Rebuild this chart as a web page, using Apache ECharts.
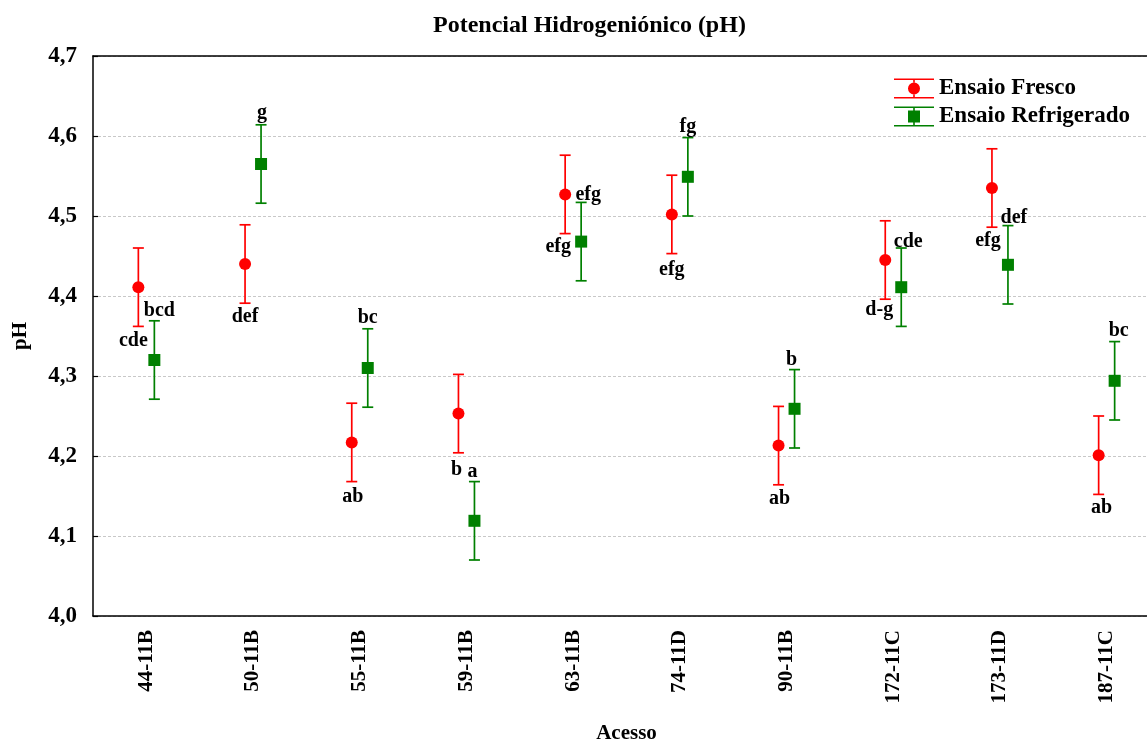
<!DOCTYPE html>
<html>
<head>
<meta charset="utf-8">
<script src="https://cdn.jsdelivr.net/npm/echarts@6/dist/echarts.min.js"></script>
<style>
  html, body { margin: 0; padding: 0; background: #fff; }
  #chart { width: 1147px; height: 740px; }
</style>
</head>
<body>
<div id="chart"></div>
<script>
// Accessions
const categories = ['44-11B', '50-11B', '55-11B', '59-11B', '63-11B', '74-11D', '90-11B', '172-11C', '173-11D', '187-11C'];

// Mean pH per accession
const frescoMean = [4.411, 4.440, 4.217, 4.253, 4.527, 4.502, 4.213, 4.445, 4.535, 4.201];
const refrigMean = [4.320, 4.565, 4.310, 4.119, 4.468, 4.549, 4.259, 4.411, 4.439, 4.294];

// Half-width of the confidence interval
const frescoCI = [0.049, 0.049, 0.049, 0.049, 0.049, 0.049, 0.049, 0.049, 0.049, 0.049];
const refrigCI = [0.049, 0.049, 0.049, 0.049, 0.049, 0.049, 0.049, 0.049, 0.049, 0.049];

// Mean-separation letters
const frescoLetters = ['cde', 'def', 'ab', 'b', 'efg', 'efg', 'ab', 'd-g', 'efg', 'ab'];
const refrigLetters = ['bcd', 'g', 'bc', 'a', 'efg', 'fg', 'b', 'cde', 'def', 'bc'];

// Y axis ticks
const yTicks = [4.0, 4.1, 4.2, 4.3, 4.4, 4.5, 4.6, 4.7];

// Letter placement (pixel offset from the marker centre)
const frescoLabelOffset = [[-5, 54], [0, 53], [1, 54], [-2, 56], [23, 0], [0, 55], [1, 53], [-6, 50], [-4, 53], [3, 53]];
const refrigLabelOffset = [[5, -49], [1, -51], [0, -50], [-2, -49], [-23, 5], [0, -50], [-3, -49], [7, -45], [6, -47], [4, -50]];

const SERIF = '"Liberation Serif", "Times New Roman", serif';
const RED = '#ff0000';
const GREEN = '#008000';

function buildData(means, cis) {
  return means.map((m, i) => [i, m, +(m - cis[i]).toFixed(4), +(m + cis[i]).toFixed(4)]);
}

function makeRender(color, shift, marker, letters, offsets) {
  return function (params, api) {
    const i = api.value(0);
    const p = api.coord([i, api.value(1)]);
    const lo = api.coord([i, api.value(2)]);
    const hi = api.coord([i, api.value(3)]);
    const x = p[0] + shift;
    const capHalf = 5.5;
    const lineStyle = { stroke: color, lineWidth: 1.7 };
    const children = [
      { type: 'line', shape: { x1: x, y1: hi[1], x2: x, y2: lo[1] }, style: lineStyle },
      { type: 'line', shape: { x1: x - capHalf, y1: hi[1], x2: x + capHalf, y2: hi[1] }, style: lineStyle },
      { type: 'line', shape: { x1: x - capHalf, y1: lo[1], x2: x + capHalf, y2: lo[1] }, style: lineStyle }
    ];
    if (marker === 'circle') {
      children.push({ type: 'circle', shape: { cx: x, cy: p[1], r: 6 }, style: { fill: color } });
    } else {
      children.push({ type: 'rect', shape: { x: x - 6, y: p[1] - 6, width: 12, height: 12 }, style: { fill: color } });
    }
    const off = offsets[params.dataIndex];
    children.push({
      type: 'text',
      style: {
        text: letters[params.dataIndex],
        x: x + off[0],
        y: p[1] + off[1],
        align: 'center',
        verticalAlign: 'middle',
        font: 'bold 20px ' + SERIF,
        fill: '#000'
      }
    });
    return { type: 'group', children: children };
  };
}

// Legend icons: error bar with caps plus the marker (pieces do not overlap)
const iconCircle = 'path://M0,0H40V1.6H0Z M19.2,1.6H20.8V4.2H19.2Z M19.2,15.8H20.8V18.4H19.2Z M0,18.4H40V20H0Z M14,10A6,6 0 1,0 26,10A6,6 0 1,0 14,10Z';
const iconSquare = 'path://M0,0H40V1.6H0Z M19.2,1.6H20.8V4H19.2Z M19.2,16H20.8V18.4H19.2Z M0,18.4H40V20H0Z M14,4H26V16H14Z';

const chart = echarts.init(document.getElementById('chart'), null, { renderer: 'canvas' });

chart.setOption({
  animation: false,
  backgroundColor: '#fff',
  title: {
    text: 'Potencial Hidrogeniónico (pH)',
    left: 428,
    top: 9,
    textStyle: { fontFamily: SERIF, fontWeight: 'bold', fontSize: 24, color: '#000' }
  },
  legend: {
    left: 889,
    top: 72,
    orient: 'vertical',
    itemWidth: 40,
    itemHeight: 20,
    itemGap: 5,
    selectedMode: false,
    textStyle: { fontFamily: SERIF, fontWeight: 'bold', fontSize: 23, color: '#000' },
    itemStyle: { borderWidth: 0 },
    data: [
      { name: 'Ensaio Fresco', icon: iconCircle, itemStyle: { color: RED } },
      { name: 'Ensaio Refrigerado', icon: iconSquare, itemStyle: { color: GREEN } }
    ]
  },
  grid: { left: 93, top: 56, width: 1067, height: 560, containLabel: false, outerBoundsMode: 'none' },
  xAxis: [
    {
      type: 'category',
      data: categories,
      position: 'bottom',
      boundaryGap: true,
      name: 'Acesso',
      nameLocation: 'middle',
      nameGap: 107,
      nameTextStyle: { fontFamily: SERIF, fontWeight: 'bold', fontSize: 21, color: '#000' },
      axisLine: { lineStyle: { color: '#000', width: 1.5 } },
      axisTick: { inside: true, alignWithLabel: true, length: 5, lineStyle: { color: '#000', width: 1.5 } },
      axisLabel: { rotate: 90, margin: 14, fontFamily: SERIF, fontWeight: 'bold', fontSize: 21, color: '#000' },
      splitLine: { show: false }
    },
    {
      type: 'category',
      data: categories,
      position: 'top',
      boundaryGap: true,
      axisLine: { lineStyle: { color: '#000', width: 1.5 } },
      axisTick: { inside: true, alignWithLabel: true, length: 5, lineStyle: { color: '#000', width: 1.5 } },
      axisLabel: { show: false },
      splitLine: { show: false }
    }
  ],
  yAxis: {
    type: 'value',
    min: yTicks[0],
    max: yTicks[yTicks.length - 1],
    interval: 0.1,
    name: 'pH',
    nameLocation: 'middle',
    nameRotate: 90,
    nameGap: 62,
    nameTextStyle: { fontFamily: SERIF, fontWeight: 'bold', fontSize: 21, color: '#000' },
    axisLine: { show: true, lineStyle: { color: '#000', width: 1.5 } },
    axisTick: { show: true, inside: true, length: 5, lineStyle: { color: '#000', width: 1.2 } },
    axisLabel: {
      margin: 16,
      fontFamily: SERIF, fontWeight: 'bold', fontSize: 23, color: '#000',
      formatter: v => v.toFixed(1).replace('.', ',')
    },
    splitLine: { show: true, lineStyle: { color: '#c8c8c8', type: [3, 2], width: 1 } }
  },
  series: [
    {
      name: 'Ensaio Fresco',
      type: 'custom',
      xAxisIndex: 0,
      itemStyle: { color: RED },
      renderItem: makeRender(RED, -8, 'circle', frescoLetters, frescoLabelOffset),
      data: buildData(frescoMean, frescoCI),
      z: 3
    },
    {
      name: 'Ensaio Refrigerado',
      type: 'custom',
      xAxisIndex: 0,
      itemStyle: { color: GREEN },
      renderItem: makeRender(GREEN, 8, 'square', refrigLetters, refrigLabelOffset),
      data: buildData(refrigMean, refrigCI),
      z: 4
    }
  ]
});
</script>
</body>
</html>
